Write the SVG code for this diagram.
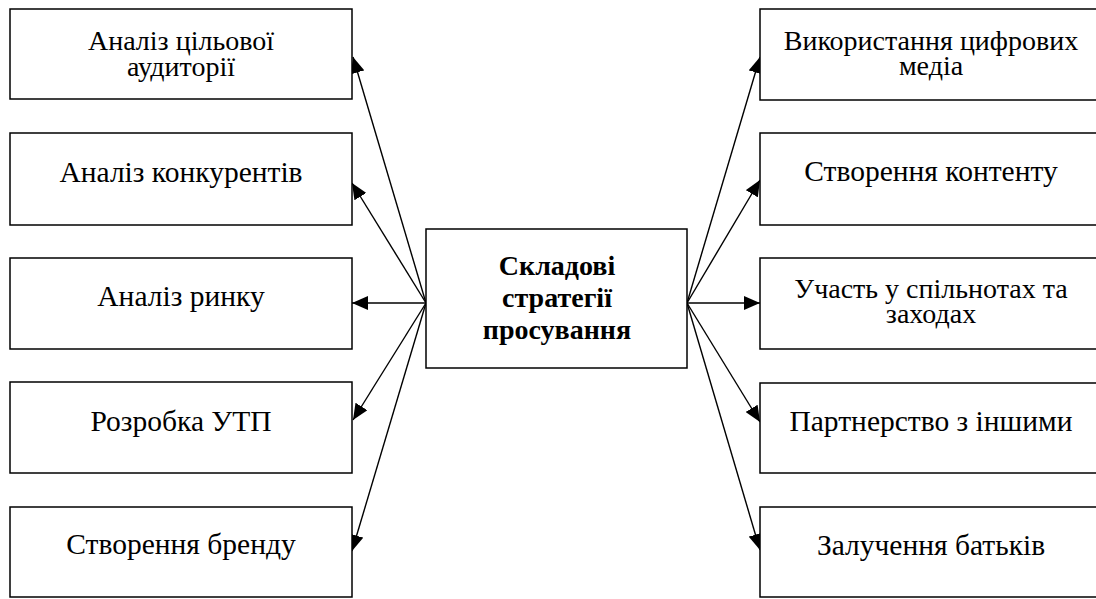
<svg xmlns="http://www.w3.org/2000/svg" width="1096" height="599" viewBox="0 0 1096 599">
<style>
.box{fill:#fff;stroke:#000;stroke-width:1.5}
text{font-family:'Liberation Serif','Times New Roman',serif;font-size:28px;text-anchor:middle;fill:#000}
.s{font-size:29.5px}
.b{font-weight:bold;font-size:28px}
.c{stroke:#000;stroke-width:1.4;fill:none;marker-end:url(#ah)}
</style>
<defs>
<marker id="ah" viewBox="0 0 16 14" refX="16" refY="7" markerWidth="16" markerHeight="14" markerUnits="userSpaceOnUse" orient="auto">
<path d="M0,0 L16,7 L0,14 Z" fill="#000"/>
</marker>
</defs>
<rect width="1096" height="599" fill="#fff"/>
<g id="connectors">
<line class="c" x1="426" y1="303" x2="353" y2="57"/>
<line class="c" x1="426" y1="303" x2="352" y2="183"/>
<line class="c" x1="426" y1="303" x2="352" y2="303"/>
<line class="c" x1="426" y1="303" x2="353" y2="420"/>
<line class="c" x1="426" y1="303" x2="352" y2="551"/>
<line class="c" x1="687" y1="303" x2="760" y2="57"/>
<line class="c" x1="687" y1="303" x2="760" y2="180"/>
<line class="c" x1="687" y1="303" x2="760" y2="303"/>
<line class="c" x1="687" y1="303" x2="760" y2="422"/>
<line class="c" x1="687" y1="303" x2="760" y2="550"/>
</g>
<g id="center">
<rect class="box" x="426" y="229" width="261" height="139"/>
<text class="b" x="557" y="275">Складові</text>
<text class="b" x="557" y="307">стратегії</text>
<text class="b" x="557" y="339">просування</text>
</g>
<g id="l1"><rect class="box" x="10" y="9" width="342" height="90"/>
<text x="181" y="50">Аналіз цільової</text><text x="181" y="76">аудиторії</text></g>
<g id="l2"><rect class="box" x="10" y="133" width="342" height="92"/>
<text class="s" x="181" y="182">Аналіз конкурентів</text></g>
<g id="l3"><rect class="box" x="10" y="258" width="342" height="91"/>
<text class="s" x="181" y="306">Аналіз ринку</text></g>
<g id="l4"><rect class="box" x="10" y="382" width="342" height="91"/>
<text class="s" x="181" y="431">Розробка УТП</text></g>
<g id="l5"><rect class="box" x="10" y="507" width="342" height="90"/>
<text class="s" x="181" y="554">Створення бренду</text></g>
<g id="r1"><rect class="box" x="760" y="9" width="342" height="91"/>
<text x="931" y="50">Використання цифрових</text><text x="931" y="75">медіа</text></g>
<g id="r2"><rect class="box" x="760" y="133" width="342" height="92"/>
<text class="s" x="931" y="181">Створення контенту</text></g>
<g id="r3"><rect class="box" x="760" y="258" width="342" height="91"/>
<text x="931" y="298">Участь у спільнотах та</text><text x="931" y="323">заходах</text></g>
<g id="r4"><rect class="box" x="760" y="383" width="342" height="90"/>
<text class="s" x="931" y="431">Партнерство з іншими</text></g>
<g id="r5"><rect class="box" x="760" y="507" width="342" height="90"/>
<text class="s" x="931" y="555">Залучення батьків</text></g>
</svg>
